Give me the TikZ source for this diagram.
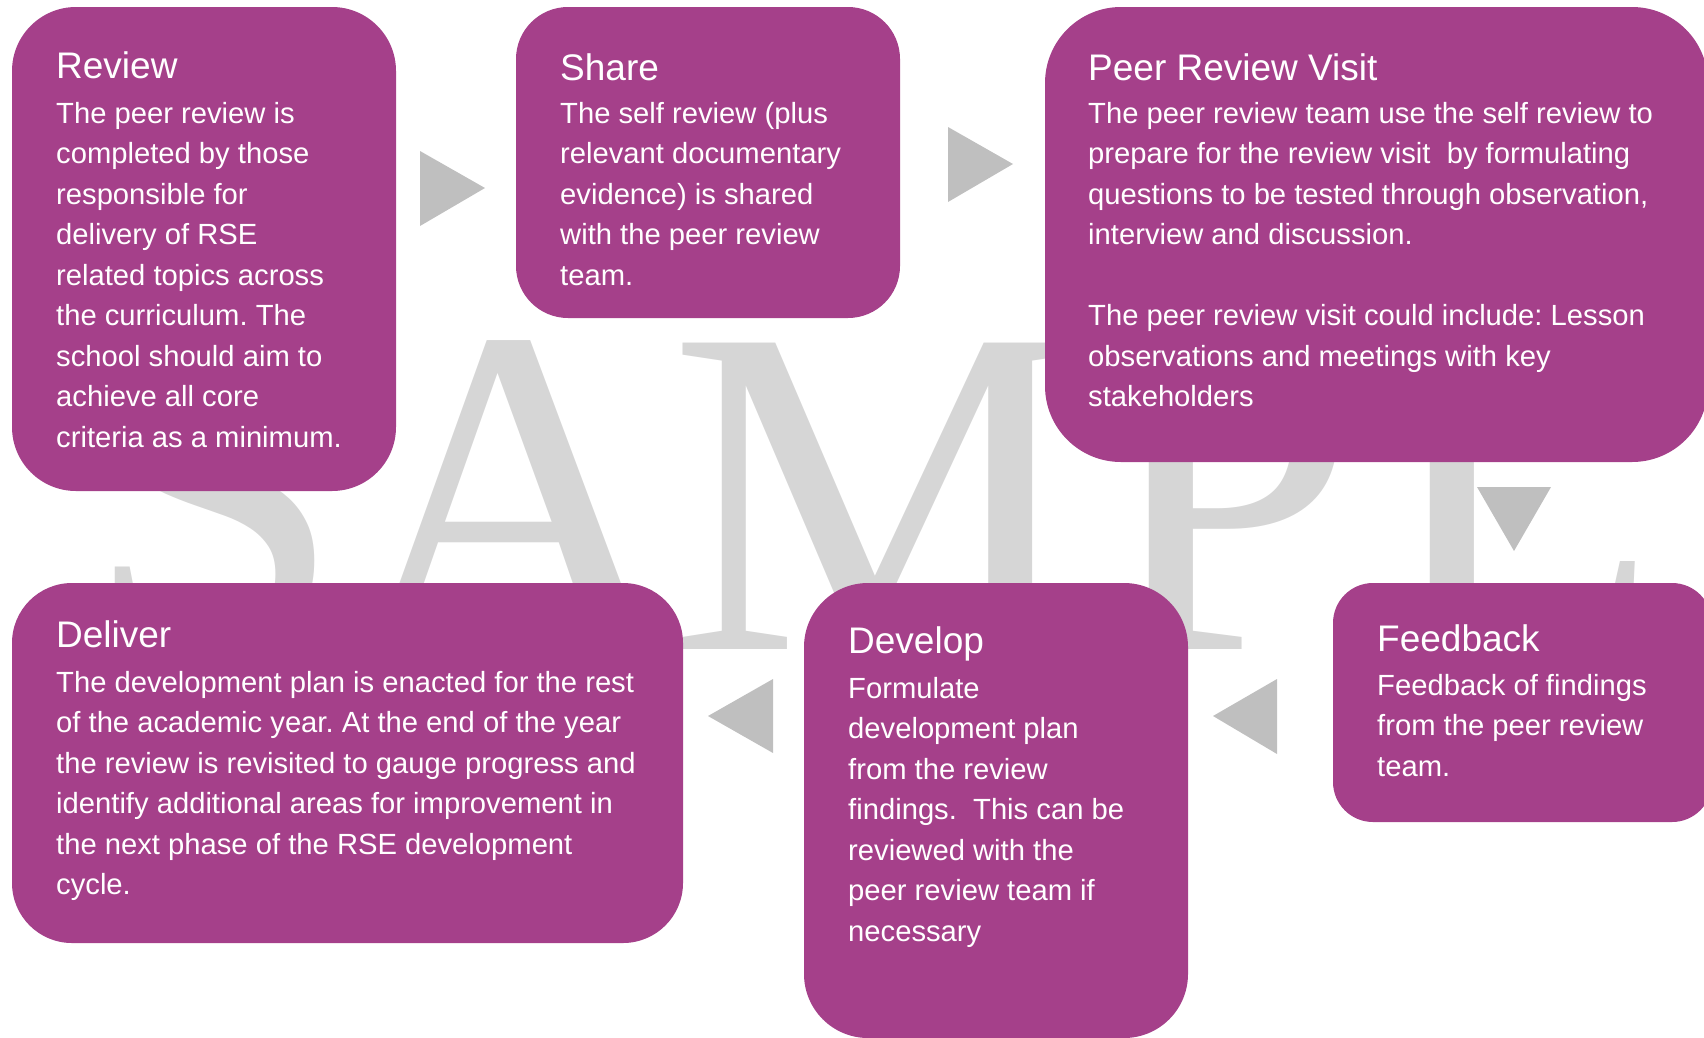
\documentclass[tikz,border=0pt]{standalone}
\usepackage{fontspec}
\setmainfont{Liberation Sans}
\newfontfamily\wmfont{Liberation Serif}
\definecolor{boxpurple}{RGB}{165,64,138}
\definecolor{arrowgray}{RGB}{191,191,191}
\definecolor{wmgray}{RGB}{214,214,214}
\frenchspacing
\newcommand{\bodylines}[1]{{\fontsize{29.2}{40.5}\selectfont\begin{tabular}[t]{@{}l@{}}#1\end{tabular}}}
\newcommand{\titletext}[1]{{\fontsize{37}{44}\selectfont #1}}
\begin{document}
\begin{tikzpicture}[x=1pt,y=-1pt,
  stagebox/.style={fill=boxpurple, draw=none, anchor=north west, inner sep=0pt, outer sep=0pt},
  stagetitle/.style={anchor=base west, inner sep=0pt, text=white},
  stagebody/.style={anchor=base west, inner sep=0pt, text=white},
  flowtri/.style={fill=arrowgray, draw=none}]
\useasboundingbox (0,0) rectangle (1704,1037);
\begin{scope}
\clip (0,0) rectangle (1704,1037);
% watermark
\node[anchor=base west, inner sep=0pt, text=wmgray] (wm) at (83,649)
  {\wmfont\fontsize{468}{468}\selectfont SA\kern-12pt M\kern12pt P\kern20pt LE};
% boxes
\node[stagebox, rounded corners=64pt, minimum width=384pt, minimum height=484pt] (review) at (12,7) {};
\node[stagebox, rounded corners=52pt, minimum width=384pt, minimum height=311pt] (share) at (516,7) {};
\node[stagebox, rounded corners=76pt, minimum width=663pt, minimum height=455pt] (visit) at (1045,7) {};
\node[stagebox, rounded corners=60pt, minimum width=671pt, minimum height=360pt] (deliver) at (12,583) {};
\node[stagebox, rounded corners=64pt, minimum width=384pt, minimum height=455pt] (develop) at (804,583) {};
\node[stagebox, rounded corners=40pt, minimum width=379pt, minimum height=239pt] (feedback) at (1333,583) {};
% arrows
\fill[flowtri] (420,151) -- (485,188) -- (420,226) -- cycle;
\fill[flowtri] (948,127) -- (1013,164) -- (948,202) -- cycle;
\fill[flowtri] (1477,487) -- (1551,487) -- (1514,551) -- cycle;
\fill[flowtri] (1277,679) -- (1213,716) -- (1277,754) -- cycle;
\fill[flowtri] (773,679) -- (708,716) -- (773,753) -- cycle;
% texts
\node[stagetitle] (reviewT) at (56,78) {\titletext{Review}};
\node[stagebody] (reviewB) at (56,123) {\bodylines{The peer review is\\ completed by those\\ responsible for\\ delivery of RSE\\ related topics across\\ the curriculum. The\\ school should aim to\\ achieve all core\\ criteria as a minimum.}};
\node[stagetitle] (shareT) at (560,80) {\titletext{Share}};
\node[stagebody] (shareB) at (560,123) {\bodylines{The self review (plus\\ relevant documentary\\ evidence) is shared\\ with the peer review\\ team.}};
\node[stagetitle] (visitT) at (1088,80) {\titletext{Peer Review Visit}};
\node[stagebody] (visitB) at (1088,123) {\bodylines{The peer review team use the self review to\\ prepare for the review visit\ \ by formulating\\ questions to be tested through observation,\\ interview and discussion.\\ \\ The peer review visit could include: Lesson\\ observations and meetings with key\\ stakeholders}};
\node[stagetitle] (deliverT) at (56,647) {\titletext{Deliver}};
\node[stagebody] (deliverB) at (56,692) {\bodylines{The development plan is enacted for the rest\\ of the academic year. At the end of the year\\ the review is revisited to gauge progress and\\ identify additional areas for improvement in\\ the next phase of the RSE development\\ cycle.}};
\node[stagetitle] (developT) at (848,653) {\titletext{Develop}};
\node[stagebody] (developB) at (848,698) {\bodylines{Formulate\\ development plan\\ from the review\\ findings.\ \ This can be\\ reviewed with the\\ peer review team if\\ necessary}};
\node[stagetitle] (feedbackT) at (1377,651) {\titletext{Feedback}};
\node[stagebody] (feedbackB) at (1377,695) {\bodylines{Feedback of findings\\ from the peer review\\ team.}};
\end{scope}
\end{tikzpicture}
\end{document}
